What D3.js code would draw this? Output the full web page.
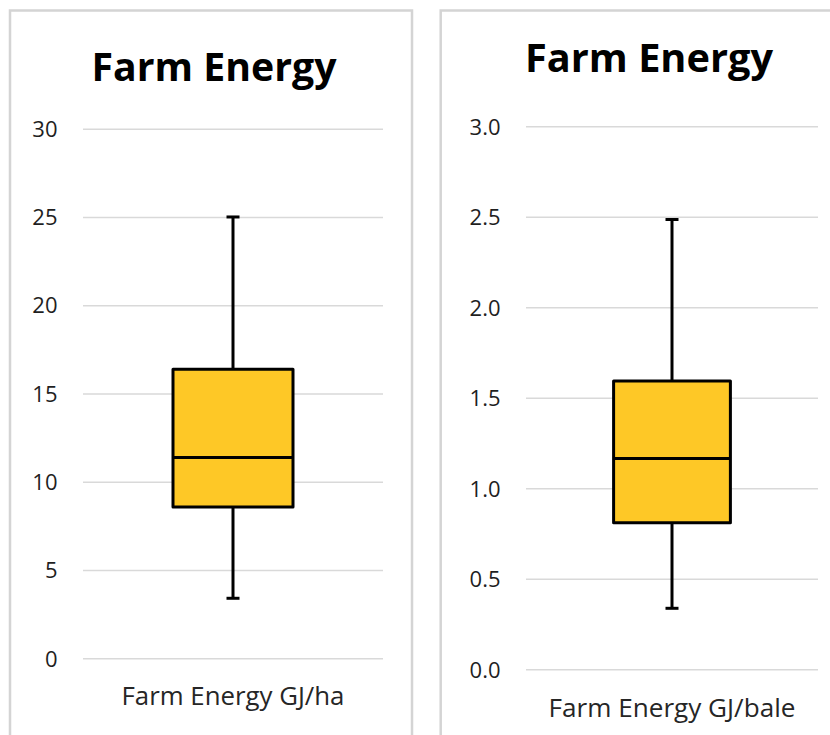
<!DOCTYPE html>
<html><head><meta charset="utf-8">
<script src="https://cdn.jsdelivr.net/npm/d3@7"></script>
<style>html,body{margin:0;padding:0;background:#fff;}svg{display:block;}</style>
</head><body>
<svg id="chart" width="830" height="735"></svg>
<script>
// ---- data ----
const titles = ["Farm Energy", "Farm Energy"];
const categories = ["Farm Energy GJ/ha", "Farm Energy GJ/bale"];
const whiskerLow = [3.4, 0.337];
const q1 = [8.57, 0.81];
const median = [11.37, 1.165];
const q3 = [16.38, 1.593];
const whiskerHigh = [25.0, 2.485];
const yMax = [30, 3.0];
const tickValues = [[0,5,10,15,20,25,30],[0,0.5,1.0,1.5,2.0,2.5,3.0]];
const tickFormats = [d3.format("d"), d3.format(".1f")];

// ---- layout ----
const panels = [
  {frame:[10,10.5,402,760], grid:[83,383], y:[658.3,128.7], tickX:57.5, titleX:214, titleY:81, titleW:245, catY:705, catW:223},
  {frame:[440.7,10.5,420,760], grid:[526,818], y:[669.3,126.3], tickX:500.5, titleX:649, titleY:72, titleW:248, catY:717, catW:247}
];
const svg = d3.select("#chart");
const FONT = "'Open Sans', 'Noto Sans', sans-serif";
function fit(t, w){ const len = t.node().getComputedTextLength(); const fs = parseFloat(t.attr("font-size")); t.attr("font-size", fs*w/len); }

panels.forEach((p,i)=>{
  const g = svg.append("g");
  g.append("rect").attr("x",p.frame[0]).attr("y",p.frame[1]).attr("width",p.frame[2]).attr("height",p.frame[3])
    .attr("fill","#fff").attr("stroke","#d4d4d4").attr("stroke-width",2.5);
  const y = d3.scaleLinear().domain([0,yMax[i]]).range(p.y);
  const x = d3.scaleBand().domain([categories[i]]).range(p.grid).paddingInner(0.6).paddingOuter(0.3);

  // gridlines via axis
  const ga = g.append("g").attr("transform",`translate(${p.grid[0]},0)`)
    .call(d3.axisLeft(y).tickValues(tickValues[i]).tickSize(-(p.grid[1]-p.grid[0])).tickFormat(""));
  ga.select(".domain").remove();
  ga.selectAll(".tick line").attr("stroke","#d9d9d9").attr("stroke-width",1.5);

  // tick labels
  const lab = g.append("g").attr("transform",`translate(${p.tickX},0)`)
    .call(d3.axisLeft(y).tickValues(tickValues[i]).tickSize(0).tickPadding(0).tickFormat(tickFormats[i]));
  lab.select(".domain").remove();
  lab.selectAll(".tick text").attr("font-family",FONT).attr("font-size",22).attr("fill","#1f1f1f").attr("dy","0.35em");

  // box
  const cx = x(categories[i]) + x.bandwidth()/2;
  const capW = 13;
  const wk = g.append("g").attr("stroke","#000").attr("stroke-width",3);
  wk.append("line").attr("x1",cx).attr("x2",cx).attr("y1",y(whiskerHigh[i])).attr("y2",y(q3[i]));
  wk.append("line").attr("x1",cx).attr("x2",cx).attr("y1",y(q1[i])).attr("y2",y(whiskerLow[i]));
  wk.append("line").attr("x1",cx-capW/2).attr("x2",cx+capW/2).attr("y1",y(whiskerHigh[i])).attr("y2",y(whiskerHigh[i]));
  wk.append("line").attr("x1",cx-capW/2).attr("x2",cx+capW/2).attr("y1",y(whiskerLow[i])).attr("y2",y(whiskerLow[i]));
  g.append("rect").attr("x",x(categories[i])).attr("width",x.bandwidth())
    .attr("y",y(q3[i])).attr("height",y(q1[i])-y(q3[i]))
    .attr("fill","#FEC826").attr("stroke","#000").attr("stroke-width",3).attr("stroke-linejoin","round");
  g.append("line").attr("x1",x(categories[i])).attr("x2",x(categories[i])+x.bandwidth())
    .attr("y1",y(median[i])).attr("y2",y(median[i])).attr("stroke","#000").attr("stroke-width",3);

  // title
  const t = g.append("text").attr("x",p.titleX).attr("y",p.titleY).attr("text-anchor","middle")
    .attr("font-family",FONT).attr("font-weight","bold").attr("font-size",38).attr("fill","#000").text(titles[i]);
  fit(t, p.titleW);
  // category label
  const c = g.append("text").attr("x",cx).attr("y",p.catY).attr("text-anchor","middle")
    .attr("font-family",FONT).attr("font-size",20).attr("fill","#262626").text(categories[i]);
  fit(c, p.catW);
});
</script>
</body></html>
